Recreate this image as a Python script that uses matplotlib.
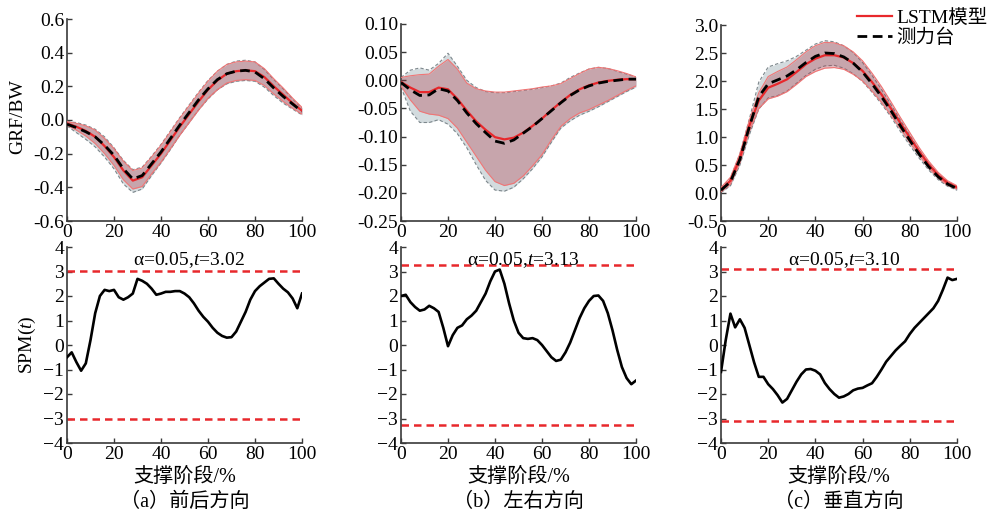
import matplotlib
matplotlib.use('Agg')
import matplotlib.pyplot as plt
from matplotlib.ticker import FormatStrFormatter
import numpy as np

plt.rcParams['font.family'] = ['Liberation Serif', 'Noto Sans CJK SC']
plt.rcParams['mathtext.fontset'] = 'custom'
plt.rcParams['mathtext.rm'] = 'Liberation Serif'
plt.rcParams['mathtext.it'] = 'Liberation Serif:italic'

# ---- data ----
x_grf = np.arange(0, 101, 4)
x_spm = np.arange(0, 101, 2)

# (a) 前后方向
lstm_ap = [-0.02, -0.04, -0.065, -0.10, -0.155, -0.22, -0.30, -0.36, -0.34, -0.27, -0.20, -0.12, -0.04,
           0.035, 0.11, 0.18, 0.235, 0.275, 0.29, 0.295, 0.29, 0.255, 0.20, 0.15, 0.10, 0.055]
lstm_ap_hi = [-0.01, -0.02, -0.035, -0.06, -0.11, -0.17, -0.245, -0.30, -0.285, -0.22, -0.15, -0.07, 0.01,
              0.085, 0.16, 0.23, 0.29, 0.33, 0.345, 0.35, 0.345, 0.305, 0.245, 0.19, 0.13, 0.075]
lstm_ap_lo = [-0.03, -0.06, -0.095, -0.14, -0.20, -0.27, -0.355, -0.41, -0.395, -0.32, -0.25, -0.17, -0.09,
              -0.015, 0.06, 0.13, 0.18, 0.22, 0.235, 0.24, 0.235, 0.205, 0.155, 0.11, 0.07, 0.035]
fp_ap = [-0.025, -0.045, -0.07, -0.10, -0.15, -0.21, -0.29, -0.35, -0.33, -0.26, -0.19, -0.11, -0.03,
         0.045, 0.12, 0.185, 0.24, 0.275, 0.29, 0.295, 0.285, 0.245, 0.19, 0.14, 0.095, 0.05]
fp_ap_hi = [-0.01, -0.015, -0.03, -0.055, -0.10, -0.165, -0.24, -0.295, -0.28, -0.215, -0.145, -0.065, 0.015,
            0.09, 0.165, 0.235, 0.29, 0.33, 0.35, 0.355, 0.345, 0.30, 0.24, 0.185, 0.125, 0.07]
fp_ap_lo = [-0.035, -0.075, -0.115, -0.16, -0.22, -0.29, -0.38, -0.43, -0.41, -0.33, -0.255, -0.175, -0.09,
            -0.015, 0.06, 0.125, 0.18, 0.215, 0.23, 0.235, 0.23, 0.195, 0.145, 0.10, 0.065, 0.03]

# (b) 左右方向
lstm_ml = [-0.003, -0.013, -0.021, -0.021, -0.013, -0.016, -0.033, -0.054, -0.073, -0.088, -0.101, -0.105, -0.102,
           -0.093, -0.081, -0.068, -0.053, -0.039, -0.026, -0.016, -0.009, -0.004, -0.001, 0.001, 0.002, 0.002]
lstm_ml_hi = [0.005, 0.008, 0.010, 0.011, 0.025, 0.037, 0.020, -0.005, -0.015, -0.019, -0.021, -0.021, -0.019,
              -0.017, -0.015, -0.012, -0.010, -0.006, 0.003, 0.012, 0.020, 0.023, 0.021, 0.017, 0.012, 0.006]
lstm_ml_lo = [-0.010, -0.035, -0.055, -0.060, -0.062, -0.068, -0.085, -0.110, -0.135, -0.160, -0.180, -0.187, -0.183,
              -0.170, -0.152, -0.132, -0.106, -0.082, -0.068, -0.058, -0.052, -0.044, -0.036, -0.027, -0.018, -0.010]
fp_ml = [-0.004, -0.017, -0.027, -0.026, -0.015, -0.019, -0.036, -0.058, -0.077, -0.093, -0.108, -0.112, -0.106,
         -0.094, -0.082, -0.068, -0.054, -0.040, -0.027, -0.017, -0.010, -0.005, -0.002, 0.000, 0.002, 0.002]
fp_ml_hi = [0.005, 0.018, 0.022, 0.018, 0.030, 0.048, 0.025, 0.000, -0.013, -0.020, -0.022, -0.022, -0.020,
            -0.018, -0.016, -0.013, -0.010, -0.005, 0.005, 0.013, 0.020, 0.023, 0.021, 0.016, 0.011, 0.006]
fp_ml_lo = [-0.012, -0.055, -0.075, -0.075, -0.070, -0.078, -0.095, -0.120, -0.150, -0.178, -0.195, -0.197, -0.190,
            -0.175, -0.157, -0.136, -0.110, -0.085, -0.072, -0.062, -0.055, -0.047, -0.038, -0.029, -0.020, -0.012]

# (c) 垂直方向
lstm_v = [0.06, 0.22, 0.62, 1.20, 1.65, 1.88, 1.95, 2.03, 2.16, 2.30, 2.40, 2.46, 2.46,
          2.42, 2.32, 2.18, 1.98, 1.76, 1.51, 1.25, 0.99, 0.74, 0.51, 0.32, 0.18, 0.10]
lstm_v_hi = [0.10, 0.28, 0.70, 1.30, 1.79, 2.08, 2.17, 2.25, 2.38, 2.52, 2.63, 2.69, 2.68,
             2.63, 2.52, 2.36, 2.14, 1.90, 1.63, 1.35, 1.08, 0.81, 0.57, 0.37, 0.22, 0.13]
lstm_v_lo = [0.02, 0.16, 0.54, 1.10, 1.51, 1.68, 1.73, 1.81, 1.94, 2.08, 2.17, 2.23, 2.24,
             2.21, 2.12, 2.00, 1.82, 1.62, 1.39, 1.15, 0.90, 0.67, 0.45, 0.27, 0.14, 0.07]
fp_v = [0.05, 0.20, 0.60, 1.18, 1.72, 1.95, 2.02, 2.09, 2.20, 2.33, 2.44, 2.50, 2.49,
        2.43, 2.32, 2.16, 1.95, 1.72, 1.47, 1.20, 0.94, 0.69, 0.47, 0.29, 0.16, 0.08]
fp_v_hi = [0.09, 0.27, 0.70, 1.32, 1.98, 2.25, 2.31, 2.36, 2.44, 2.55, 2.66, 2.72, 2.70,
           2.63, 2.51, 2.33, 2.10, 1.85, 1.58, 1.30, 1.03, 0.76, 0.53, 0.34, 0.20, 0.11]
fp_v_lo = [0.01, 0.13, 0.50, 1.04, 1.50, 1.70, 1.74, 1.82, 1.96, 2.10, 2.21, 2.27, 2.28,
           2.23, 2.13, 1.99, 1.80, 1.59, 1.36, 1.10, 0.85, 0.62, 0.41, 0.24, 0.12, 0.05]

# SPM{t}
spm_ap = [-0.5, -0.3, -0.7, -1.05, -0.75, 0.2, 1.3, 2.0, 2.25, 2.2, 2.25, 1.95, 1.85, 1.95, 2.1, 2.7, 2.62,
          2.5, 2.3, 2.05, 2.1, 2.17, 2.17, 2.2, 2.2, 2.1, 1.95, 1.7, 1.4, 1.15, 0.95, 0.7, 0.5, 0.37,
          0.3, 0.32, 0.55, 0.95, 1.35, 1.85, 2.2, 2.4, 2.55, 2.7, 2.72, 2.5, 2.3, 2.15, 1.9, 1.5, 2.1]
spm_ml = [2.0, 2.05, 1.75, 1.55, 1.4, 1.45, 1.6, 1.5, 1.35, 0.7, -0.05, 0.4, 0.7, 0.8, 1.05, 1.2, 1.4,
          1.75, 2.1, 2.6, 3.0, 3.08, 2.5, 1.7, 1.0, 0.5, 0.28, 0.25, 0.28, 0.2, 0.0, -0.25, -0.5, -0.65,
          -0.6, -0.3, 0.1, 0.6, 1.1, 1.5, 1.8, 2.0, 2.02, 1.8, 1.3, 0.6, -0.2, -0.9, -1.35, -1.6, -1.45]
spm_v = [-1.1, 0.2, 1.28, 0.72, 1.05, 0.7, 0.0, -0.7, -1.3, -1.3, -1.6, -1.8, -2.05, -2.35, -2.2, -1.85, -1.5,
         -1.2, -1.0, -0.98, -1.05, -1.2, -1.55, -1.8, -2.0, -2.15, -2.1, -2.0, -1.85, -1.78, -1.75, -1.65, -1.56,
         -1.3, -1.0, -0.68, -0.45, -0.22, -0.03, 0.15, 0.45, 0.7, 0.9, 1.1, 1.3, 1.5, 1.8, 2.25, 2.75, 2.65, 2.7]

t_label = ['3.02', '3.13', '3.10']
t_line = [3.02, 3.25, 3.10]
captions = ['（a）前后方向', '（b）左右方向', '（c）垂直方向']

grf_sets = [
    (lstm_ap, lstm_ap_lo, lstm_ap_hi, fp_ap, fp_ap_lo, fp_ap_hi),
    (lstm_ml, lstm_ml_lo, lstm_ml_hi, fp_ml, fp_ml_lo, fp_ml_hi),
    (lstm_v, lstm_v_lo, lstm_v_hi, fp_v, fp_v_lo, fp_v_hi),
]
spm_sets = [spm_ap, spm_ml, spm_v]
ylims = [(-0.6, 0.6), (-0.25, 0.10), (-0.5, 3.0)]
yticks = [[-0.6, -0.4, -0.2, 0.0, 0.2, 0.4, 0.6],
          [-0.25, -0.20, -0.15, -0.10, -0.05, 0.0, 0.05, 0.10],
          [-0.5, 0.0, 0.5, 1.0, 1.5, 2.0, 2.5, 3.0]]
yfmt = ['%.1f', '%.2f', '%.1f']

# ---- layout (pixels of a 1001x513 canvas) ----
W, H = 1001, 513
fig = plt.figure(figsize=(W / 100, H / 100), dpi=100)

lefts = [67, 401, 721]
rights = [302, 636, 957]
tops = [19, 24, 25]

spine_c = '#3a3a3a'
fs = 14


def style(ax):
    for s in ['top', 'right']:
        ax.spines[s].set_visible(False)
    for s in ['left', 'bottom']:
        ax.spines[s].set_color(spine_c)
        ax.spines[s].set_linewidth(1.2)
    ax.tick_params(direction='in', length=3.5, width=1, colors=spine_c,
                   labelcolor='black', labelsize=fs, pad=2)


for i in range(3):
    l, r = lefts[i], rights[i]
    # GRF panel
    ax = fig.add_axes([l / W, (H - 221) / H, (r - l) / W, (221 - tops[i]) / H])
    lm, llo, lhi, fm, flo, fhi = grf_sets[i]
    ax.fill_between(x_grf, flo, fhi, color='#d3dbde', lw=0, zorder=1)
    ax.plot(x_grf, flo, color='#7d878c', lw=0.8, ls=(0, (3, 2)), zorder=2)
    ax.plot(x_grf, fhi, color='#7d878c', lw=0.8, ls=(0, (3, 2)), zorder=2)
    ax.fill_between(x_grf, llo, lhi, color='#b03848', alpha=0.33, lw=0, zorder=3)
    ax.plot(x_grf, llo, color='#f07575', lw=0.8, zorder=4)
    ax.plot(x_grf, lhi, color='#f07575', lw=0.8, zorder=4)
    h1, = ax.plot(x_grf, lm, color='#e8282c', lw=1.6, zorder=5, label='LSTM模型')
    h2, = ax.plot(x_grf, fm, color='black', lw=2.0, ls=(0, (3.5, 2)), zorder=6, label='测力台')
    ax.set_xlim(0, 100)
    ax.set_ylim(*ylims[i])
    ax.set_xticks(np.arange(0, 101, 20))
    ax.set_yticks(yticks[i])
    ax.yaxis.set_major_formatter(FormatStrFormatter(yfmt[i]))
    style(ax)

    # SPM panel
    bx = fig.add_axes([l / W, (H - 443) / H, (r - l) / W, (443 - 247) / H])
    bx.plot(x_spm, spm_sets[i], color='black', lw=1.9, zorder=3)
    for lv in (t_line[i], -t_line[i]):
        bx.axhline(lv, color='#e8282c', lw=1.8, ls=(0, (3, 2)), zorder=2)
    bx.text(52, 3.45, 'α=0.05,$t$=' + t_label[i], ha='center', va='center', fontsize=fs)
    bx.set_xlim(0, 100)
    bx.set_ylim(-4, 4)
    bx.set_xticks(np.arange(0, 101, 20))
    bx.set_yticks(np.arange(-4, 5, 1))
    style(bx)

    cx = (l + r) / 2 / W
    fig.text(cx, 1 - 477 / H, '支撑阶段/%', ha='center', va='center', fontsize=14.5, fontweight='medium')
    fig.text(cx, 1 - 502 / H, captions[i], ha='center', va='center', fontsize=14.5, fontweight='medium')

fig.text(18 / W, 1 - 117 / H, 'GRF/BW', rotation=90, ha='center', va='center', fontsize=fs)
fig.text(27 / W, 1 - 345 / H, 'SPM($t$)', rotation=90, ha='center', va='center', fontsize=fs)

fig.legend(handles=[h1, h2], loc='upper right', bbox_to_anchor=(1.0, 1.01), frameon=False,
           fontsize=fs, handlelength=1.8, handletextpad=0.2, labelspacing=0.1, borderpad=0.2)

fig.savefig('out.png', dpi=100)
